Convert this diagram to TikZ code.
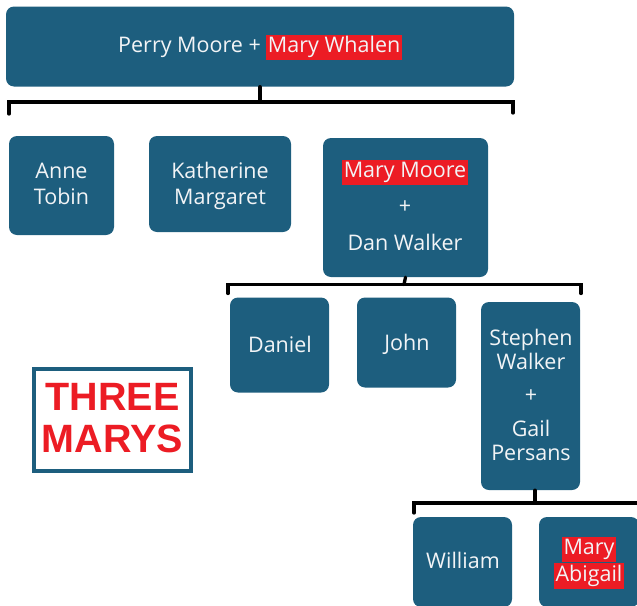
\documentclass[tikz,border=0pt]{standalone}
\usepackage{fontspec}
\setmainfont{Open Sans}
\newfontfamily\marysfont{Liberation Sans}
\definecolor{boxblue}{HTML}{1D5E7E}
\definecolor{hlred}{HTML}{EC1C24}
\definecolor{txtwhite}{HTML}{F2F4F6}
\newcommand\hlbox[1]{{\setlength\fboxsep{1.5pt}\colorbox{hlred}{\rule[-6pt]{0pt}{21.5pt}#1}}}
\tikzset{
  famnode/.style={draw=none, fill=boxblue, rounded corners=8pt, inner sep=0pt},
  lbl/.style={text=txtwhite, font=\fontsize{21.5}{26}\selectfont, inner sep=0pt, anchor=base},
  bracket/.style={draw=black, line width=3.3pt, line cap=round, line join=miter},
}
\begin{document}
\begin{tikzpicture}[x=1pt,y=-1pt]
\useasboundingbox (0,0) rectangle (637,605);
% boxes
\node[famnode, minimum width=508pt, minimum height=80pt] (top) at (260,46.5) {};
\node[famnode, minimum width=105pt, minimum height=99pt] (anne) at (61.5,185.5) {};
\node[famnode, minimum width=142pt, minimum height=96pt] (kath) at (220,184) {};
\node[famnode, minimum width=165pt, minimum height=139pt] (mmoore) at (405.5,207.5) {};
\node[famnode, minimum width=99pt, minimum height=95pt] (daniel) at (279.5,345) {};
\node[famnode, minimum width=99pt, minimum height=90pt] (john) at (406.5,342.5) {};
\node[famnode, minimum width=99pt, minimum height=188pt] (stephen) at (530.5,396) {};
\node[famnode, minimum width=99pt, minimum height=90pt] (william) at (462.5,562) {};
\node[famnode, minimum width=100pt, minimum height=90pt] (mabigail) at (589,562) {};
% texts
\node[lbl] (t1) at (260,52.5) {Perry Moore + \hlbox{Mary Whalen}};
\node[lbl] (t2) at (61.5,178) {Anne};
\node[lbl] (t3) at (61.5,204) {Tobin};
\node[lbl] (t4) at (220,178) {Katherine};
\node[lbl] (t5) at (220,204) {Margaret};
\node[lbl] (t6) at (405,177) {\hlbox{Mary Moore}};
\node[lbl] (t7) at (405,213) {+};
\node[lbl] (t8) at (405,250) {Dan Walker};
\node[lbl] (t9) at (280,352) {Daniel};
\node[lbl] (t10) at (407,350) {John};
\node[lbl] (t11) at (531,345) {Stephen};
\node[lbl] (t12) at (531,369) {Walker};
\node[lbl] (t13) at (531,402) {+};
\node[lbl] (t14) at (531,436) {Gail};
\node[lbl] (t15) at (531,460) {Persans};
\node[lbl] (t16) at (463,568) {William};
\node[lbl] (t17) at (589,554) {\hlbox{Mary}};
\node[lbl] (t18) at (589,581) {\hlbox{Abigail}};
% three marys
\node[draw=boxblue, line width=4pt, fill=white, minimum width=157pt, minimum height=102pt, inner sep=0pt] (marys) at (112.5,420) {};
\node[text=hlred, font=\marysfont\bfseries\fontsize{39.5}{42}\selectfont, anchor=base, inner sep=0pt] (m1) at (112.5,410) {THREE};
\node[text=hlred, font=\marysfont\bfseries\fontsize{39.5}{42}\selectfont, anchor=base, inner sep=0pt] (m2) at (112.5,452) {MARYS};
% brackets
\coordinate (b1) at (260,102);
\coordinate (b1l) at (9,102);
\coordinate (b1r) at (513,102);
\draw[bracket] (top.south) -- (b1);
\draw[bracket] (b1l) ++(0,12) -- (b1l) -- (b1r) -- ++(0,11);
\coordinate (b2) at (404,284.5);
\coordinate (b2l) at (228,284.5);
\coordinate (b2r) at (581,284.5);
\draw[bracket] (mmoore.south) -- (b2);
\draw[bracket] (b2l) ++(0,9) -- (b2l) -- (b2r) -- ++(0,9);
\coordinate (b3) at (535,503);
\coordinate (b3l) at (414,503);
\coordinate (b3r) at (640,503);
\draw[bracket] (stephen.south -| b3) -- (b3);
\draw[bracket] (b3l) ++(0,10) -- (b3l) -- (b3r);
\end{tikzpicture}
\end{document}
